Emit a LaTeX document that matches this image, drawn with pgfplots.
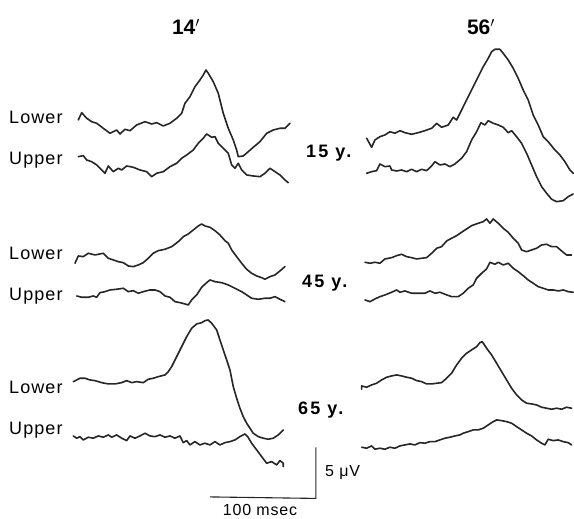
\documentclass[border=0pt]{standalone}
\usepackage{pgfplots}
\pgfplotsset{compat=1.18}
\usepackage{fontspec}
\setmainfont{Liberation Sans}
\newfontfamily\lblfont[LetterSpace=6]{Liberation Sans}
\newfontfamily\agefont[LetterSpace=12]{Liberation Sans}
\newfontfamily\scfont[LetterSpace=5]{Liberation Sans}
\begin{document}
\begin{tikzpicture}
\begin{axis}[
  width=574pt, height=517pt, scale only axis,
  xmin=0, xmax=574, ymin=0, ymax=517, y dir=reverse,
  hide axis, clip=false,
  trace/.style={black!85, line width=1.6pt, line join=round, line cap=round},
]
\path (axis cs:0,0) rectangle (axis cs:574,517);
% ---------- 15 y. left (14')
\addplot[trace] coordinates {(78.3,120)(81.7,112.7)(86.7,118.3)(91.7,121.7)(96.7,123.3)(103.3,128.3)(110,133.3)(116.7,130)(120,134)(125,129.3)(130,130.7)(136.7,125)(145,121.7)(151.7,124)(156.7,122.7)(163.3,126)(170,123.3)(176.7,118.3)(181.7,113.3)(185,103.3)(190,96.7)(195,86.7)(200,80)(203.3,75)(206,70)(208.3,73.3)(213.3,81.7)(218.3,93.3)(223.3,113.3)(228.3,128.3)(233.3,140)(236.7,150)(238.3,156.7)(243.3,156)(248.3,151.7)(253.3,147.3)(260,141.7)(266.7,133.3)(273.3,130)(280,128.3)(285,128.3)(290,123.3)};
\addplot[trace] coordinates {(78.3,156.7)(83.3,155.7)(86.7,160)(91.7,161.7)(96.7,165)(101.7,170)(105,173.3)(108.3,166)(113.3,171.7)(118.3,168.3)(121.7,170)(126.7,166)(133.3,167.3)(140,170)(146.7,171.7)(151.7,176.7)(156.7,173.3)(163.3,171.7)(170,166.7)(176.7,163.3)(181.7,158.3)(186.7,155)(193.3,150)(198.3,143.3)(203.3,138.3)(206.7,134)(211.7,137.3)(215,136.7)(218.3,143.3)(223.3,148.3)(228.3,153.3)(231.7,165)(235,168.3)(238.3,163.3)(241.7,170)(246.7,175)(253.3,176)(260,176.7)(265,173.3)(270,168.3)(275,171.7)(280,175)(285,180)(288.3,182.7)};
% ---------- 15 y. right (56')
\addplot[trace] coordinates {(366.7,138.3)(371.7,147.3)(375,140)(380,136.7)(385,135)(390,131.7)(395,133.3)(400,130.7)(405,132.7)(411.7,134.3)(418.3,132.7)(425,130.7)(431.7,128.3)(436.7,123.3)(441.7,127.3)(448.3,125)(453.3,117.3)(456.7,120)(461.7,110)(468.3,96.7)(473.3,86.7)(478.3,76.7)(483.3,66.7)(488.3,58.3)(491.7,51.7)(495,49.3)(500,49.3)(503.3,53.3)(508.3,60)(513.3,68.3)(518.3,78.3)(523.3,90)(528.3,100)(533.3,115)(538.3,125)(543.3,136.7)(548.3,141.7)(555,150)(560,155)(565,161.7)(570,170)(573.3,173.3)};
\addplot[trace] coordinates {(366.7,173.3)(371.7,171.7)(376.7,170.7)(380,164)(385,166.7)(390,166)(391.7,170)(396.7,171)(401.7,170)(406.7,171.7)(411.7,169.3)(416.7,171.7)(421.7,169.3)(426.7,170.7)(431.7,166)(435,161.7)(440,165)(445,164)(450,166.7)(455,164)(461.7,158.3)(466.7,151.7)(471.7,140)(476.7,131.7)(481,122.7)(485,125)(488.3,120.7)(493.3,123.3)(498.3,125)(503.3,127.3)(508.3,132.7)(511.7,130.7)(516.7,136.7)(521.7,143.3)(526.7,153.3)(531.7,165)(536.7,176.7)(541.7,186.7)(546.7,193.3)(551.7,199.3)(556.7,201.7)(563.3,200.7)(568.3,196.7)(573.3,194)};
% ---------- 45 y. left
\addplot[trace] coordinates {(75,263.3)(78.3,256)(83.3,256.7)(88.3,253.3)(95,255)(103.3,253.3)(108.3,258.3)(113.3,260)(118.3,261.7)(123.3,262.7)(128.3,266)(133.3,266.7)(138.3,265)(143.3,262.7)(148.3,258.3)(153.3,253.3)(158.3,250.7)(165,249.3)(171.7,246.7)(178.3,241.7)(183.3,236.7)(188.3,234)(193.3,230)(198.3,226)(201.7,224)(205,226)(210,227.3)(215,230.7)(220,235)(225,240.7)(228.3,243.3)(231.7,250)(236.7,256.7)(241.7,263.3)(246.7,269.3)(251.7,273.3)(256.7,276)(261.7,277.7)(265,279.3)(270,276.7)(275,275)(280,271)(285,266.7)};
\addplot[trace] coordinates {(76.7,296)(81.7,297.3)(88.3,297.3)(93.3,296)(96.7,297.3)(100,292.7)(105,291.7)(110,290)(116.7,289.3)(123.3,288.3)(128.3,291.7)(133.3,290.7)(138.3,293.3)(143.3,291.7)(150,290)(155,290)(160,291.7)(165,296)(170,297.3)(175,301.7)(180,302.7)(185,304)(188.3,305)(191.7,300)(196.7,295)(201.7,287.3)(206.7,282.7)(210,280)(215,281.7)(221.7,282.7)(228.3,285)(235,288.3)(241.7,291.7)(246.7,295)(251.7,298.3)(258.3,299.3)(265,298.3)(270,298.3)(275,296.7)(280,299.3)(285,301.7)};
% ---------- 45 y. right
\addplot[trace] coordinates {(365,262.3)(370,263.3)(375,262.3)(380,263.3)(385,259)(391.7,257.7)(396.7,255.7)(401.7,254.3)(406.7,256.7)(411.7,257.7)(416.7,259)(421.7,258.3)(426.7,257.7)(431.7,253.3)(436.7,248.3)(441.7,246.7)(446.7,241)(451.7,238.3)(456.7,235.7)(461.7,232.3)(466.7,229)(471.7,225.7)(478.3,223.3)(483.3,221.7)(486.7,219)(490,223.3)(493.3,219)(498.3,223.3)(503.3,228.3)(508.3,232.3)(513.3,238.3)(518.3,243.3)(521.7,250)(526.7,251.7)(531.7,250)(536.7,248.3)(541.7,245)(546.7,244.3)(551.7,246.7)(556.7,246.7)(561.7,251)(566.7,255)(571.7,255)};
\addplot[trace] coordinates {(365,300)(370,301.7)(375,299)(380,296.7)(385,295)(391.7,292.3)(396.7,290)(400,292.3)(405,291)(411.7,293.3)(418.3,293.3)(425,293.3)(430,291)(435,293.3)(440,292.3)(445,294.3)(451.7,296.7)(458.3,296.7)(463.3,293.3)(468.3,288.3)(473.3,285)(476.7,278.3)(481.7,273.3)(486.7,269)(490,262.3)(495,264.3)(498.3,262.3)(503.3,265)(508.3,263.3)(513.3,268.3)(518.3,271.7)(523.3,275.7)(528.3,280)(533.3,283.3)(538.3,286.7)(543.3,288.3)(548.3,290)(553.3,290)(558.3,291)(563.3,290)(568.3,291.7)(573.3,292.3)};
% ---------- 65 y. left
\addplot[trace] coordinates {(73.3,381.7)(76.7,380)(80,378.3)(85,378.3)(90,380)(95,380.7)(101.7,382.7)(108.3,384)(115,384)(121.7,382.7)(126.7,380.7)(131.7,382.7)(136.7,381.7)(143.3,382.7)(148.3,379.3)(153.3,378.3)(158.3,376.7)(165,375)(168.3,371.7)(171.7,366.7)(176.7,356.7)(181.7,346.7)(186.7,336.7)(191.7,328.3)(196.7,324)(201.7,322.7)(205,320.7)(208.3,320)(211.7,323.3)(216.7,330)(220,340)(223.3,350)(226.7,360)(230,370)(233.3,386.7)(236.7,398.3)(240,408.3)(243.3,416.7)(246.7,423.3)(250,428.3)(253.3,433.3)(258.3,436.7)(263.3,438.3)(268.3,439.3)(273.3,438.3)(278.3,435)(283.3,430)};
\addplot[trace] coordinates {(73.3,436)(76.7,438.3)(80,436.7)(83.3,440)(88.3,437.3)(93.3,438.3)(98.3,436)(103.3,437.3)(108.3,435)(111.7,437.3)(116.7,435)(121.7,438.3)(126.7,440.7)(130,436)(135,438.3)(140,436)(145,433.3)(150,436)(155,436.7)(160,435)(165,437.3)(170,436)(175,438.3)(180,436)(183.3,442.7)(186.7,440.7)(190,445)(195,441.7)(200,445)(205,443.3)(210,445)(215,441.7)(220,445)(225,442.7)(230,441.7)(235,440)(240,436.7)(245,434)(247.7,436.7)(251.7,443.3)(256.7,450)(261.7,456.7)(266.7,463.3)(271.7,461.7)(276.7,465)(280,460.7)(283.3,463.3)(283.3,466.7)};
% ---------- 65 y. right
\addplot[trace] coordinates {(361.7,389.3)(361.7,386)(366.7,387.3)(371.7,385)(376.7,383.3)(381.7,380)(386.7,377.3)(391.7,376)(396.7,375)(401.7,376)(406.7,377.3)(411.7,378.3)(416.7,380.7)(421.7,381.7)(426.7,384)(431.7,384)(436.7,383.3)(441.7,382.7)(446.7,378.3)(451.7,373.3)(456.7,365)(461.7,358.3)(466.7,353.3)(471.7,350)(476.7,346.7)(480,342.7)(482.3,341.7)(486.7,348.3)(491.7,355)(496.7,363.3)(501.7,371.7)(506.7,380)(511.7,388.3)(516.7,395)(521.7,400)(526.7,403.3)(531.7,404)(536.7,405)(541.7,407.3)(546.7,408.3)(551.7,409.3)(556.7,408.3)(561.7,409.3)(566.7,407.3)(571.7,408.3)};
\addplot[trace] coordinates {(361.7,447.3)(366.7,448.3)(371.7,446)(375,449.3)(380,448.3)(385,449.3)(390,447.3)(395,448.3)(400,446)(405,445)(410,444)(415,445)(420,442.7)(425,443.3)(430,441.7)(435,441.7)(440,440)(445,438.3)(450,437.3)(455,436)(460,435)(463.3,433.3)(468.3,431.7)(473.3,430)(478.3,430)(483.3,428.3)(488.3,425)(493.3,421.7)(496.7,420)(501.7,420.7)(506.7,421.7)(511.7,423.3)(516.7,426.7)(521.7,430)(526.7,433.3)(531.7,436)(536.7,440)(541.7,443.3)(545,445)(548.3,439.3)(553.3,440.7)(558.3,440)(563.3,441.7)(568.3,442.7)(571.7,445)};
% ---------- scale bar
\addplot[black!85, line width=1.1pt] coordinates {(210,497) (316,498.5) (316,447.5)};
% ---------- texts
\node[font=\fontsize{21}{24}\selectfont\bfseries] at (axis cs:186,27) {14$'$};
\node[font=\fontsize{21}{24}\selectfont\bfseries] at (axis cs:481,27) {56$'$};
\foreach \yy/\tt in {117/Lower,160/Upper,253/Lower,296/Upper,387/Lower,430/Upper}{
  \edef\tmp{\noexpand\node[font=\noexpand\fontsize{18}{20}\noexpand\selectfont\noexpand\lblfont, anchor=west, inner sep=0pt] at (axis cs:9,\yy) {\tt};}\tmp
}
\node[font=\fontsize{18}{20}\selectfont\agefont\bfseries, anchor=west, inner sep=0pt] at (axis cs:306,153) {15 y.};
\node[font=\fontsize{18}{20}\selectfont\agefont\bfseries, anchor=west, inner sep=0pt] at (axis cs:302,283) {45 y.};
\node[font=\fontsize{18}{20}\selectfont\agefont\bfseries, anchor=west, inner sep=0pt] at (axis cs:298,410) {65 y.};
\node[font=\fontsize{16}{18}\selectfont\scfont, anchor=west, inner sep=0pt] at (axis cs:325,473) {5 μV};
\node[font=\fontsize{16}{18}\selectfont\scfont] at (axis cs:260,510) {100 msec};
\end{axis}
\end{tikzpicture}
\end{document}
